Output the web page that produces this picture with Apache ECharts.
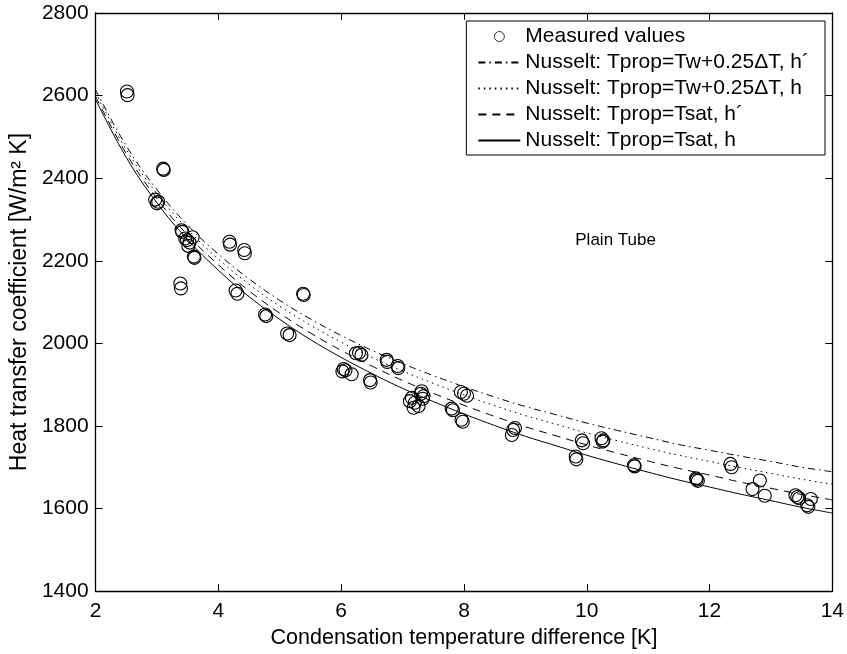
<!DOCTYPE html>
<html>
<head>
<meta charset="utf-8">
<script src="https://cdn.jsdelivr.net/npm/echarts@6/dist/echarts.min.js"></script>
<style>
html,body{margin:0;padding:0;background:#fff;}
#chart{width:847px;height:654px;}
</style>
</head>
<body>
<div id="chart"></div>
<script>
// Measured values (x: condensation temperature difference [K], y: heat transfer coefficient)
var measuredX = [2.51,2.52,3.10,3.11,2.97,3.00,3.02,3.40,3.41,3.46,3.53,3.58,3.51,3.49,3.60,3.61,
  4.18,4.19,4.42,4.43,3.38,3.39,4.28,4.31,5.38,5.39,4.76,4.78,5.12,5.16,6.24,6.29,6.33,
  6.74,6.75,6.92,6.93,6.04,6.07,6.17,6.02,6.47,6.48,7.15,7.20,7.12,7.31,7.34,7.26,7.18,7.30,7.33,
  7.95,8.00,8.05,7.80,7.82,7.96,7.98,8.83,8.80,8.78,9.92,9.94,9.82,9.83,10.24,10.27,10.26,
  10.77,10.78,11.78,11.79,11.81,12.34,12.36,12.82,12.70,12.90,13.40,13.43,13.46,13.65,13.59,13.61];
var measuredY = [2610,2601,2423,2420,2348,2339,2343,2274,2270,2254,2244,2257,2236,2250,2210,2207,
  2246,2239,2226,2218,2145,2133,2128,2120,2120,2117,2070,2066,2024,2020,1976,1977,1972,
  1960,1955,1945,1940,1938,1935,1925,1932,1911,1905,1868,1856,1860,1884,1872,1848,1844,1878,1866,
  1882,1878,1873,1842,1838,1815,1810,1795,1790,1778,1765,1758,1726,1719,1770,1765,1762,
  1705,1702,1673,1670,1667,1708,1700,1668,1647,1631,1632,1628,1625,1623,1608,1604];

// Curve sample positions
var curveX = [2,2.5,3,3.5,4,4.5,5,5.5,6,6.5,7,7.5,8,8.5,9,9.5,10,10.5,11,11.5,12,12.5,13,13.5,14];
// Nusselt: Tprop=Tw+0.25ΔT, h´ (dash-dot)
var nuTwHp = [2614,2478,2372,2286,2216,2156,2104,2059,2019,1983,1951,1922,1895,1870,1847,1827,1807,1789,1772,1755,1741,1727,1714,1700,1689];
// Nusselt: Tprop=Tw+0.25ΔT, h (dotted)
var nuTwH = [2607,2469,2362,2276,2204,2143,2090,2044,2003,1966,1933,1903,1875,1849,1825,1804,1783,1764,1746,1729,1714,1699,1685,1671,1659];
// Nusselt: Tprop=Tsat, h´ (dashed)
var nuSatHp = [2598,2459,2350,2262,2190,2127,2073,2025,1983,1945,1910,1879,1850,1823,1798,1776,1754,1734,1715,1697,1681,1664,1649,1634,1621];
// Nusselt: Tprop=Tsat, h (solid)
var nuSatH = [2591,2450,2340,2251,2177,2113,2058,2009,1966,1927,1891,1859,1829,1801,1775,1752,1729,1708,1688,1669,1652,1635,1619,1603,1589];

var xTicks = {min: 2, max: 14, interval: 2};
var yTicks = {min: 1400, max: 2800, interval: 200};

var seriesNames = ['Measured values',
  'Nusselt: Tprop=Tw+0.25\u0394T, h\u00B4',
  'Nusselt: Tprop=Tw+0.25\u0394T, h',
  'Nusselt: Tprop=Tsat, h\u00B4',
  'Nusselt: Tprop=Tsat, h'];
var annotation = {text: 'Plain Tube', x: 10.47, y: 2250};

function zip(a, b){ return a.map(function(v,i){ return [v, b[i]]; }); }

var FONT = '"Liberation Sans", Arial, Helvetica, sans-serif';
var FS = 21;

function lineSeries(name, ys, dash){
  return {
    name: name, type: 'line', data: zip(curveX, ys), smooth: 0.4, symbol: 'none',
    color: '#000', itemStyle: {color: '#000'},
    lineStyle: {color: '#000', width: 1, type: dash}, z: 2, animation: false
  };
}

var chart = echarts.init(document.getElementById('chart'), null, {renderer: 'canvas'});
var commonAxis = {
  axisLine: {show: true, lineStyle: {color: '#000', width: 1.3}},
  axisTick: {show: true, inside: true, length: 7, lineStyle: {color: '#000', width: 1}},
  splitLine: {show: false}
};
var legendData = seriesNames.map(function(n, i){
  return i === 0 ? {name: n, icon: 'circle', itemStyle: {borderWidth: 0.8, borderColor: '#000', color: 'rgba(0,0,0,0)'}}
                 : {name: n, itemStyle: {opacity: 0, color: 'rgba(0,0,0,0)', borderWidth: 0}};
});
chart.setOption({
  animation: false,
  backgroundColor: '#fff',
  textStyle: {fontFamily: FONT},
  grid: {left: 92, right: 14, top: 13, bottom: 57, containLabel: false},
  xAxis: [
    Object.assign({type: 'value', position: 'bottom', min: xTicks.min, max: xTicks.max, interval: xTicks.interval,
      name: 'Condensation temperature difference [K]', nameLocation: 'middle', nameGap: 30,
      nameTextStyle: {color: '#000', fontSize: 21.5, fontFamily: FONT},
      axisLabel: {color: '#000', fontSize: FS, fontFamily: FONT, margin: 10,
        formatter: function(v){ return String(v); }}}, commonAxis),
    Object.assign({type: 'value', position: 'top', min: xTicks.min, max: xTicks.max, interval: xTicks.interval,
      axisLabel: {show: false}}, commonAxis)
  ],
  yAxis: [
    Object.assign({type: 'value', position: 'left', min: yTicks.min, max: yTicks.max, interval: yTicks.interval,
      name: 'Heat transfer coefficient [W/m\u00B2 K]', nameLocation: 'middle', nameGap: 55, nameRotate: 90,
      nameTextStyle: {color: '#000', fontSize: 23, fontFamily: FONT},
      axisLabel: {color: '#000', fontSize: FS, fontFamily: FONT, margin: 7,
        formatter: function(v){ return String(v); }}}, commonAxis),
    Object.assign({type: 'value', position: 'right', min: yTicks.min, max: yTicks.max, interval: yTicks.interval,
      axisLabel: {show: false}}, commonAxis)
  ],
  legend: {
    show: true, orient: 'vertical', right: 22, top: 21,
    data: legendData,
    itemWidth: 42, itemHeight: 10, itemGap: 5,
    padding: [5, 16, 4, 11],
    borderColor: '#000', borderWidth: 1, borderRadius: 0, backgroundColor: '#fff',
    textStyle: {color: '#000', fontSize: FS, fontFamily: FONT},
    selectedMode: false
  },
  series: [
    {
      name: seriesNames[0], type: 'scatter', data: zip(measuredX, measuredY),
      symbol: 'circle', symbolSize: 13,
      itemStyle: {color: 'rgba(0,0,0,0)', borderColor: '#000', borderWidth: 1.1, opacity: 1},
      emphasis: {disabled: true}, z: 3, animation: false
    },
    lineSeries(seriesNames[1], nuTwHp, [7, 4, 1.5, 4]),
    lineSeries(seriesNames[2], nuTwH, [1.5, 4]),
    lineSeries(seriesNames[3], nuSatHp, [8, 6]),
    lineSeries(seriesNames[4], nuSatH, 'solid')
  ]
});
var p = chart.convertToPixel({xAxisIndex: 0, yAxisIndex: 0}, [annotation.x, annotation.y]);
chart.setOption({
  graphic: [{type: 'text', x: p[0], y: p[1], silent: true,
    style: {text: annotation.text, fill: '#000', font: '17px ' + FONT, textAlign: 'center', textVerticalAlign: 'middle'}}]
});
</script>
</body>
</html>
